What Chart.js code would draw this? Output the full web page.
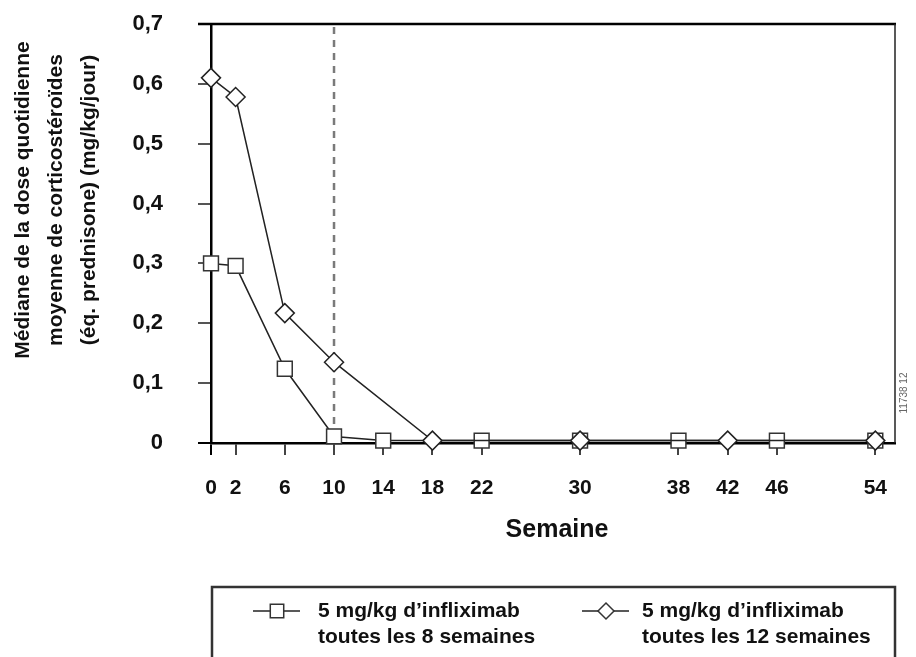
<!DOCTYPE html>
<html lang="fr">
<head>
<meta charset="utf-8">
<title>Médiane de la dose quotidienne de corticostéroïdes</title>
<script src="https://cdn.jsdelivr.net/npm/chart.js@4.4.1/dist/chart.umd.min.js"></script>
<style>
  html, body { margin: 0; padding: 0; background: #fff; }
  #wrap { width: 916px; height: 657px; }
</style>
</head>
<body>
<div id="wrap"><canvas id="doseChart" width="916" height="657"></canvas></div>
<script>
// --- Data ---
const weekTicks = [0, 2, 6, 10, 14, 18, 22, 30, 38, 42, 46, 54];

// 5 mg/kg every 8 weeks (squares)
const weeksQ8 = [0, 2, 6, 10, 14, 22, 30, 38, 46, 54];
const doseQ8 = [0.300, 0.296, 0.124, 0.011, 0.004, 0.004, 0.004, 0.004, 0.004, 0.004];

// 5 mg/kg every 12 weeks (diamonds)
const weeksQ12 = [0, 2, 6, 10, 18, 30, 42, 54];
const doseQ12 = [0.610, 0.578, 0.217, 0.135, 0.004, 0.004, 0.004, 0.004];

const seriesLabels = [
    ['5 mg/kg d\u2019infliximab', 'toutes les 8 semaines'],
    ['5 mg/kg d\u2019infliximab', 'toutes les 12 semaines']
];
const yTitleLines = [
    'Médiane de la dose quotidienne',
    'moyenne de corticostéroïdes',
    '(éq. prednisone) (mg/kg/jour)'
];
const xTitle = 'Semaine';
const cutoffWeek = 10; // dashed vertical line
const figureCode = '11738 12';

const FONT = "'Liberation Sans', Arial, Helvetica, sans-serif";

const toPoints = (xs, ys) => xs.map((x, i) => ({ x: x, y: ys[i] }));

// Helper: draw a text line rotated -90deg
const drawRotated = (ctx, text, x, y, font, color) => {
    ctx.save();
    ctx.translate(x, y);
    ctx.rotate(-Math.PI / 2);
    ctx.font = font;
    ctx.fillStyle = color;
    ctx.textAlign = 'center';
    ctx.textBaseline = 'middle';
    ctx.fillText(text, 0, 0);
    ctx.restore();
};

// --- Extra drawing: frame, dashed line, titles, legend box ---
const decorPlugin = {
    id: 'decor',
    beforeDatasetsDraw(chart) {
        const { ctx, chartArea, scales } = chart;
        const x = scales.x.getPixelForValue(cutoffWeek);
        ctx.save();
        ctx.strokeStyle = '#7a7a7a';
        ctx.lineWidth = 2.5;
        ctx.setLineDash([7, 6]);
        ctx.beginPath();
        ctx.moveTo(x, chartArea.top + 3);
        ctx.lineTo(x, chartArea.bottom);
        ctx.stroke();
        ctx.restore();
    },
    afterDraw(chart) {
        const { ctx, chartArea } = chart;
        const ds = chart.data.datasets;
        ctx.save();

        // top and right frame lines
        ctx.strokeStyle = '#000';
        ctx.lineWidth = 2.5;
        ctx.beginPath();
        ctx.moveTo(chartArea.left - 13, chartArea.top);
        ctx.lineTo(chartArea.right + 1, chartArea.top);
        ctx.stroke();
        ctx.lineWidth = 1.5;
        ctx.strokeStyle = '#222';
        ctx.beginPath();
        ctx.moveTo(chartArea.right, chartArea.top);
        ctx.lineTo(chartArea.right, chartArea.bottom);
        ctx.stroke();

        // y axis title, three lines
        const colX = [23, 56, 89];
        yTitleLines.forEach((line, i) => {
            drawRotated(ctx, line, colX[i], 200, 'bold 21px ' + FONT, '#111');
        });

        // x axis title
        ctx.font = 'bold 25px ' + FONT;
        ctx.fillStyle = '#111';
        ctx.textAlign = 'center';
        ctx.textBaseline = 'middle';
        ctx.fillText(xTitle, 557, 530);

        // small figure code at the right
        drawRotated(ctx, figureCode, chartArea.right + 9, 393, '10px ' + FONT, '#666');

        // legend box (runs off the bottom of the picture)
        ctx.lineWidth = 2.5;
        ctx.strokeStyle = '#333';
        ctx.strokeRect(212, 587, 683, 120);

        const items = [
            { cx: 277, tx: 318, d: ds[1], r: 9.5, lbl: seriesLabels[0] },
            { cx: 606, tx: 642, d: ds[0], r: 8, lbl: seriesLabels[1] }
        ];
        items.forEach((it) => {
            const ly = 611;
            ctx.lineWidth = 1.5;
            ctx.strokeStyle = '#222';
            ctx.beginPath();
            ctx.moveTo(it.cx - 24, ly);
            ctx.lineTo(it.cx + 23, ly);
            ctx.stroke();
            ctx.fillStyle = '#fff';
            ctx.strokeStyle = '#333';
            Chart.helpers.drawPoint(ctx, {
                pointStyle: it.d.pointStyle,
                radius: it.r,
                borderWidth: 1.5
            }, it.cx, ly);
            ctx.font = 'bold 21px ' + FONT;
            ctx.fillStyle = '#111';
            ctx.textAlign = 'left';
            ctx.textBaseline = 'middle';
            ctx.fillText(it.lbl[0], it.tx, 611);
            ctx.fillText(it.lbl[1], it.tx, 637);
        });
        ctx.restore();
    }
};

const ctx = document.getElementById('doseChart').getContext('2d');

new Chart(ctx, {
    type: 'line',
    data: {
        datasets: [
            {
                label: seriesLabels[1].join(' '),
                data: toPoints(weeksQ12, doseQ12),
                pointStyle: 'rectRot',
                pointRadius: 9.5,
                pointBorderWidth: 1.5,
                pointBackgroundColor: '#fff',
                pointBorderColor: '#222',
                borderColor: '#222',
                borderWidth: 1.5,
                tension: 0,
                clip: false,
                order: 1
            },
            {
                label: seriesLabels[0].join(' '),
                data: toPoints(weeksQ8, doseQ8),
                pointStyle: 'rect',
                pointRadius: 10.5,
                pointBorderWidth: 1.5,
                pointBackgroundColor: '#fff',
                pointBorderColor: '#333',
                borderColor: '#222',
                borderWidth: 1.5,
                tension: 0,
                clip: false,
                order: 2
            }
        ]
    },
    options: {
        responsive: false,
        animation: false,
        layout: { padding: { left: 0, top: 24, right: 21, bottom: 154 } },
        plugins: {
            legend: { display: false },
            title: { display: false },
            tooltip: { enabled: false }
        },
        scales: {
            x: {
                type: 'linear',
                min: 0,
                max: 55.6,
                afterFit: (s) => { s.height = 60; s.paddingLeft = 0; s.paddingRight = 0; },
                afterBuildTicks: (s) => { s.ticks = weekTicks.map(v => ({ value: v })); },
                border: { display: true, color: '#000', width: 2.5 },
                grid: {
                    drawOnChartArea: false,
                    drawTicks: true,
                    tickLength: 12,
                    lineWidth: 2,
                    color: (c) => (c.tick && c.tick.value === 0 ? '#000' : '#444')
                },
                ticks: {
                    autoSkip: false,
                    maxRotation: 0,
                    padding: 21,
                    color: '#111',
                    font: { family: FONT, size: 21, weight: 'bold' },
                    callback: (v) => String(v)
                }
            },
            y: {
                min: 0,
                max: 0.7,
                afterFit: (s) => { s.width = 211; s.paddingTop = 0; s.paddingBottom = 0; },
                border: { display: true, color: '#000', width: 2.5 },
                grid: {
                    drawOnChartArea: false,
                    drawTicks: true,
                    tickLength: 13,
                    lineWidth: 2,
                    color: (c) => {
                        const v = c.tick ? c.tick.value : 0;
                        return (v < 0.001 || v > 0.699) ? '#000' : '#555';
                    }
                },
                ticks: {
                    stepSize: 0.1,
                    padding: 35,
                    color: '#111',
                    font: { family: FONT, size: 22, weight: 'bold' },
                    callback: (v) => (Math.abs(v) < 1e-9 ? '0' : v.toFixed(1).replace('.', ','))
                }
            }
        }
    },
    plugins: [decorPlugin]
});
</script>
</body>
</html>
